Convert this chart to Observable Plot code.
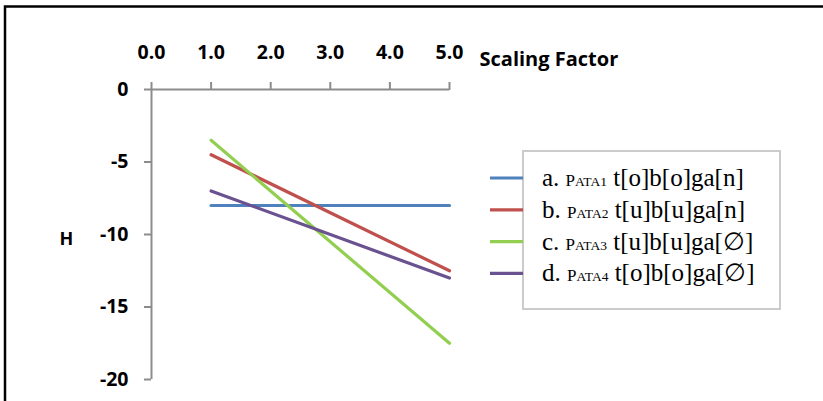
<!DOCTYPE html>
<html>
<head>
<meta charset="utf-8">
<script src="https://cdn.jsdelivr.net/npm/d3@7"></script>
<script src="https://cdn.jsdelivr.net/npm/@observablehq/plot@0.6"></script>
<style>
  body { margin: 0; background: #fff; }
  svg { display: block; }
</style>
</head>
<body>
<div id="chart"></div>
<script>
// ---- data ----
const scalingFactor = [1.0, 5.0];
const seriesA = [-8.0, -8.0];
const seriesB = [-4.5, -12.5];
const seriesC = [-3.5, -17.5];
const seriesD = [-7.0, -13.0];
const seriesKeys = ["a", "b", "c", "d"];
const seriesCodes = ["PATA1", "PATA2", "PATA3", "PATA4"];
const seriesForms = ["t[o]b[o]ga[n]", "t[u]b[u]ga[n]", "t[u]b[u]ga[\u2205]", "t[o]b[o]ga[\u2205]"];
const seriesColors = ["#4f81bd", "#c0504d", "#92cf50", "#6a518f"];
const xTicks = [0, 1, 2, 3, 4, 5];
const yTicks = [0, -5, -10, -15, -20];
const xTitle = "Scaling Factor";
const yTitle = "H";

const allSeries = [seriesA, seriesB, seriesC, seriesD];
const rows = [];
allSeries.forEach((vals, i) => {
  vals.forEach((v, j) => rows.push({ key: seriesKeys[i], x: scalingFactor[j], y: v }));
});

const axisFont = { fontFamily: "Open Sans", fontWeight: "bold", fontSize: 19.5 };

const chart = Plot.plot({
  width: 823,
  height: 401,
  marginLeft: 151,
  marginRight: 374,
  marginTop: 89,
  marginBottom: 22,
  style: { background: "transparent", overflow: "visible" },
  x: { domain: [0, 5] },
  y: { domain: [-20, 0] },
  color: { domain: seriesKeys, range: seriesColors },
  marks: [
    Plot.ruleY([0], { x1: 0, x2: 5, stroke: "#8c8c8c", strokeWidth: 2 }),
    Plot.ruleX([0], { y1: 0, y2: -20, stroke: "#8c8c8c", strokeWidth: 2 }),
    Plot.axisX({
      anchor: "top", ticks: xTicks, tickSize: 8, tickPadding: 23,
      tickFormat: d => d.toFixed(1), label: null,
      stroke: "#8c8c8c", strokeWidth: 2, fill: "black", ...axisFont
    }),
    Plot.axisY({
      anchor: "left", ticks: yTicks, tickSize: 7, tickPadding: 16,
      tickFormat: d => String(d), label: null,
      stroke: "#8c8c8c", strokeWidth: 2, fill: "black", ...axisFont
    }),
    Plot.text([xTitle], {
      frameAnchor: "top-right", dx: 30, dy: -38, textAnchor: "start",
      fill: "black", ...axisFont, fontSize: 20
    }),
    Plot.text([yTitle], {
      frameAnchor: "left", dx: -92, dy: 5, textAnchor: "start",
      fill: "black", ...axisFont, fontSize: 18
    }),
    Plot.line(rows, { x: "x", y: "y", z: "key", stroke: "key", strokeWidth: 3.2 })
  ]
});

document.getElementById("chart").appendChild(chart);

const svg = d3.select(chart);

// outer frame (top and left edges)
svg.append("path")
  .attr("d", "M5,401 L5,6.5 L823,6.5")
  .attr("fill", "none")
  .attr("stroke", "black")
  .attr("stroke-width", 2.5);

// legend
const lg = svg.append("g");
lg.append("rect")
  .attr("x", 523).attr("y", 151).attr("width", 257).attr("height", 158)
  .attr("fill", "white").attr("stroke", "#cbcbcb").attr("stroke-width", 2);

seriesKeys.forEach((k, i) => {
  const yy = 178 + i * 31.8;
  lg.append("line")
    .attr("x1", 490).attr("x2", 523).attr("y1", yy).attr("y2", yy)
    .attr("stroke", seriesColors[i]).attr("stroke-width", 3.2);
  const t = lg.append("text")
    .attr("x", 542).attr("y", yy + 8)
    .attr("text-anchor", "start")
    .attr("font-family", "Liberation Serif")
    .attr("font-size", 25)
    .attr("fill", "black");
  t.append("tspan").text(k + ". ");
  const code = seriesCodes[i];
  t.append("tspan").attr("font-size", 17).text(code[0]);
  t.append("tspan").attr("font-size", 13.5).text(code.slice(1));
  t.append("tspan").text(" " + seriesForms[i]);
});
</script>
</body>
</html>
